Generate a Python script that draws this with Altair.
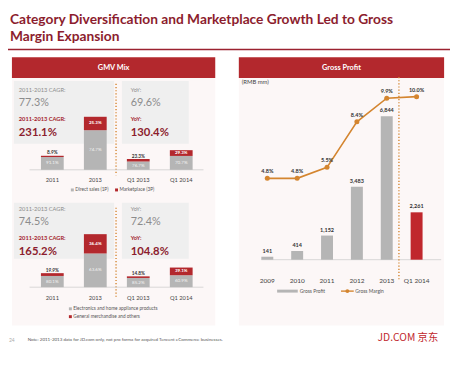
import altair as alt
import pandas as pd

# ---------------- data ----------------
gmv_cats = ["2011", "2013", "Q1 2013", "Q1 2014"]
gmv_total = [32.0, 121.0, 24.7, 44.8]          # relative GMV size (bar heights)
share_1p = [91.1, 74.7, 76.7, 70.7]            # Direct sales (1P), %
share_3p = [8.9, 25.3, 23.3, 29.3]             # Marketplace (3P), %
share_elec = [80.1, 63.6, 85.2, 60.9]          # Electronics and home appliance, %
share_gm = [19.9, 36.4, 14.8, 39.1]            # General merchandise and others, %

top_stats = ["77.3%", "231.1%", "69.6%", "130.4%"]
bottom_stats = ["74.5%", "165.2%", "72.4%", "104.8%"]

gp_cats = ["2009", "2010", "2011", "2012", "2013", "Q1 2014"]
gross_profit = [141, 414, 1152, 3483, 6844, 2261]   # RMB mm
gross_margin = [4.8, 4.8, 5.5, 8.4, 9.9, 10.0]      # %

# ---------------- styles ----------------
FONT = "Lato"
MAROON = "#8c1d2e"
RED = "#b3282d"
GRAY = "#b5b5b5"
ORANGE = "#d4852f"
DARK = "#333333"
MID = "#8c8c8c"
PANEL = "#fcf7f7"
BOX = "#efefef"

ONE = pd.DataFrame({"k": [0]})


def txt(s, x, y, size, color, weight="normal", align="left", baseline="alphabetic", font=FONT):
    return alt.Chart(ONE).mark_text(
        text=s, align=align, baseline=baseline, fontSize=size, color=color,
        fontWeight=weight, font=font
    ).encode(x=alt.value(x), y=alt.value(y))


def rect(x0, x1, y0, y1, color):
    return alt.Chart(ONE).mark_rect(color=color).encode(
        x=alt.value(x0), x2=alt.value(x1), y=alt.value(y0), y2=alt.value(y1))


def rule(x0, x1, y0, y1, color, width=1.0, dash=None):
    kw = dict(color=color, strokeWidth=width)
    if dash:
        kw["strokeDash"] = dash
    return alt.Chart(ONE).mark_rule(**kw).encode(
        x=alt.value(x0), x2=alt.value(x1), y=alt.value(y0), y2=alt.value(y1))


# ---------------- left: GMV mix stacked bars ----------------
def mix_layers(shares_a, shares_b, names, y_range, label_y):
    rows, lab_a, lab_in, lab_out = [], [], [], []
    for i, c in enumerate(gmv_cats):
        t = gmv_total[i]
        a, b = shares_a[i], shares_b[i]
        rows.append(dict(cat=c, seg=names[0], ord=0, value=t * a / 100))
        rows.append(dict(cat=c, seg=names[1], ord=1, value=t * b / 100))
        lab_a.append(dict(cat=c, pos=t * a / 200, lab=f"{a:.1f}%"))
        if t * b / 100 >= 10:
            lab_in.append(dict(cat=c, pos=t * (a + b / 2) / 100, lab=f"{b:.1f}%"))
        else:
            lab_out.append(dict(cat=c, pos=t, lab=f"{b:.1f}%"))
    df = pd.DataFrame(rows)
    xb = alt.Scale(domain=gmv_cats, range=[23.25, 198.25], paddingInner=0.47, paddingOuter=0.235)
    xp = alt.Scale(type="point", domain=gmv_cats, range=[23.25, 198.25], padding=0.5)
    ys = alt.Scale(domain=[0, 130], range=y_range, nice=False, zero=True)
    bars = alt.Chart(df).mark_bar().encode(
        x=alt.X("cat:N", scale=xb, axis=None, sort=gmv_cats),
        y=alt.Y("value:Q", stack="zero", scale=ys, axis=None),
        color=alt.Color("seg:N", scale=alt.Scale(domain=names, range=[GRAY, RED]), legend=None),
        order=alt.Order("ord:Q"),
    )
    la = alt.Chart(pd.DataFrame(lab_a)).mark_text(
        fontSize=4.6, color="#f4f4f4", font=FONT, baseline="middle").encode(
        x=alt.X("cat:N", scale=xp, axis=None), y=alt.Y("pos:Q", scale=ys, axis=None), text="lab:N")
    li = alt.Chart(pd.DataFrame(lab_in)).mark_text(
        fontSize=4.6, color="#ffffff", font=FONT, baseline="middle", fontWeight="bold").encode(
        x=alt.X("cat:N", scale=xp, axis=None), y=alt.Y("pos:Q", scale=ys, axis=None), text="lab:N")
    lo = alt.Chart(pd.DataFrame(lab_out)).mark_text(
        fontSize=4.8, color=DARK, font=FONT, baseline="bottom", dy=-0.5, fontWeight="bold").encode(
        x=alt.X("cat:N", scale=xp, axis=None), y=alt.Y("pos:Q", scale=ys, axis=None), text="lab:N")
    cats = alt.Chart(pd.DataFrame({"cat": gmv_cats})).mark_text(
        fontSize=5.8, color="#444444", font=FONT).encode(
        x=alt.X("cat:N", scale=xp, axis=None), y=alt.value(label_y), text="cat:N")
    base = rule(22, 199, y_range[0], y_range[0], "#cfcfcf", 0.8)
    return [base, bars, la, li, lo, cats]


def stat_block(stats, y0):
    out = []
    for x, lab, (v1, v2) in [(11, "2011-2013 CAGR:", stats[0:2]), (125, "YoY:", stats[2:4])]:
        out.append(txt(lab, x, y0, 5.8, MID))
        out.append(txt(v1, x, y0 + 15, 11, MID))
        out.append(txt(lab, x, y0 + 30, 5.8, "#a3222b", "bold"))
        out.append(txt(v2, x, y0 + 45, 11.5, MAROON, "bold"))
    return out


# ---------------- right: gross profit ----------------
gp_df = pd.DataFrame({"cat": gp_cats, "gp": gross_profit, "gm": gross_margin})
gp_df["gp_lab"] = [f"{v:,}" for v in gross_profit]
gp_df["gm_lab"] = [f"{v:.1f}%" for v in gross_margin]
xb_r = alt.Scale(domain=gp_cats, range=[248.8, 431.2], paddingInner=0.6, paddingOuter=0.3)
xp_r = alt.Scale(type="point", domain=gp_cats, range=[248.8, 431.2], padding=0.5)
ys_gp = alt.Scale(domain=[0, 7000], range=[253, 103.7], nice=False, zero=True)
ys_gm = alt.Scale(domain=[0, 10], range=[247, 87], nice=False, zero=True)

gp_bars = alt.Chart(gp_df).mark_bar().encode(
    x=alt.X("cat:N", scale=xb_r, axis=None, sort=gp_cats),
    y=alt.Y("gp:Q", scale=ys_gp, axis=None),
    color=alt.condition(alt.datum.cat == "Q1 2014", alt.value("#c0272d"), alt.value(GRAY)),
)
gp_text = alt.Chart(gp_df).mark_text(
    fontSize=5.6, fontWeight="bold", color=DARK, font=FONT, baseline="bottom", dy=-3).encode(
    x=alt.X("cat:N", scale=xp_r, axis=None), y=alt.Y("gp:Q", scale=ys_gp, axis=None), text="gp_lab:N")
gm_line = alt.Chart(gp_df).mark_line(color=ORANGE, strokeWidth=1.6).encode(
    x=alt.X("cat:N", scale=xp_r, axis=None, sort=gp_cats), y=alt.Y("gm:Q", scale=ys_gm, axis=None))
gm_pts = alt.Chart(gp_df).mark_point(filled=True, size=26, color=ORANGE, opacity=1).encode(
    x=alt.X("cat:N", scale=xp_r, axis=None), y=alt.Y("gm:Q", scale=ys_gm, axis=None))
gm_text = alt.Chart(gp_df).mark_text(
    fontSize=5.6, fontWeight="bold", color=DARK, font=FONT, baseline="bottom", dy=-4).encode(
    x=alt.X("cat:N", scale=xp_r, axis=None), y=alt.Y("gm:Q", scale=ys_gm, axis=None), text="gm_lab:N")
gp_cat_text = alt.Chart(gp_df).mark_text(fontSize=6.6, color="#444444", font=FONT).encode(
    x=alt.X("cat:N", scale=xp_r, axis=None), y=alt.value(275), text="cat:N")

layers = [
    # title block
    txt("Category Diversification and Marketplace Growth Led to Gross", 2, 13, 14, MAROON, "bold"),
    txt("Margin Expansion", 2, 30, 14, MAROON, "bold"),
    rule(0, 450, 39, 39, "#9b2230", 1.5),
    # panels
    rect(4, 211, 68, 320, PANEL),
    rect(235, 444, 68, 320, PANEL),
    rect(4, 211, 47, 68, RED),
    rect(235, 444, 47, 68, RED),
    txt("GMV Mix", 107.5, 58, 7.5, "#ffffff", "bold", "center", "middle"),
    txt("Gross Profit", 339.5, 58, 7.5, "#ffffff", "bold", "center", "middle"),
    # stat boxes
    rect(6, 108, 71, 135, BOX), rect(116, 184, 71, 135, BOX),
    rect(6, 108, 195, 252, BOX), rect(116, 184, 195, 252, BOX),
    rule(110, 110, 74, 167, ORANGE, 1.4, [1.2, 2]),
    rule(110, 110, 200, 292, ORANGE, 1.4, [1.2, 2]),
]
layers += stat_block(top_stats, 82)
layers += stat_block(bottom_stats, 203)
layers += mix_layers(share_1p, share_3p, ["Direct sales (1P)", "Marketplace (3P)"], [161.5, 103.5], 171.5)
layers += mix_layers(share_elec, share_gm, ["Electronics and home appliance products",
                                            "General merchandise and others"], [281, 223], 292.5)
layers += [
    rect(64, 67, 180.5, 183.5, GRAY), txt("Direct sales (1P)", 68.5, 182, 4.8, "#555555", baseline="middle"),
    rect(109, 112, 180.5, 183.5, RED), txt("Marketplace (3P)", 113.5, 182, 4.8, "#555555", baseline="middle"),
    rect(62, 65, 301.5, 304.5, GRAY),
    txt("Electronics and home appliance products", 66.5, 303, 4.8, "#555555", baseline="middle"),
    rect(62, 65, 309.5, 312.5, RED),
    txt("General merchandise and others", 66.5, 311, 4.8, "#555555", baseline="middle"),
    # right panel
    txt("(RMB mm)", 238, 74, 6, "#444444"),
    rule(258, 441, 253, 253, "#cfcfcf", 0.8),
    gp_bars, gp_text,
    rule(398, 398, 67, 275, ORANGE, 1.4, [1.2, 2]),
    gm_line, gm_pts, gm_text, gp_cat_text,
    rect(274, 295, 283.5, 286.5, GRAY), txt("Gross Profit", 297, 285, 5, "#555555", baseline="middle"),
    rule(339, 352, 285, 285, ORANGE, 1.4),
    txt("Gross Margin", 353.5, 285, 5, "#555555", baseline="middle"),
    # footer
    txt("24", 1, 337, 5, "#aaaaaa"),
    txt("Note: 2011-2013 data for JD.com only, not pro forma for acquired Tencent eCommerce businesses.",
        20, 336, 4.6, "#555555"),
    txt("JD.COM 京东", 438, 336, 10.5, "#c1272d", "normal", "right", font="Noto Sans CJK SC"),
]
# orange legend dot
layers.append(alt.Chart(ONE).mark_point(filled=True, size=16, color=ORANGE, opacity=1).encode(
    x=alt.value(345.5), y=alt.value(285)))

chart = alt.layer(*layers).resolve_scale(
    x="independent", y="independent", color="independent"
).properties(
    width=450, height=358, autosize=alt.AutoSizeParams(type="none"), padding=0, background="#ffffff"
).configure_view(stroke=None)

chart.save("out.html", embed_options={"renderer": "svg", "actions": False})
